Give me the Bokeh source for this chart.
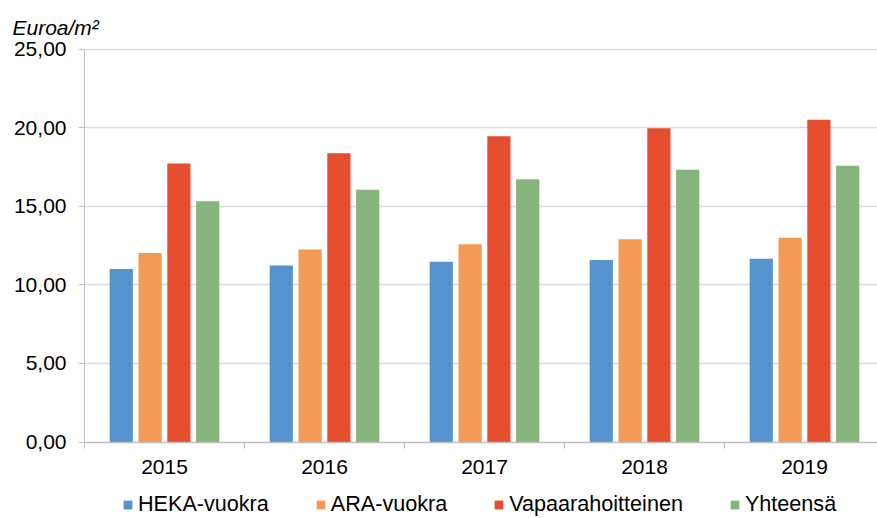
import numpy as np
from bokeh.plotting import figure
from bokeh.models import Range1d, FixedTicker, Legend, LegendItem, ColumnDataSource, Label
from bokeh.embed import file_html
from bokeh.resources import INLINE

# ---- data ----
years = ["2015", "2016", "2017", "2018", "2019"]
series_names = ["HEKA-vuokra", "ARA-vuokra", "Vapaarahoitteinen", "Yhteensä"]
heka = [11.00, 11.23, 11.46, 11.57, 11.65]
ara = [12.03, 12.25, 12.58, 12.90, 13.00]
vapaa = [17.72, 18.37, 19.45, 19.96, 20.50]
yhteensa = [15.32, 16.04, 16.72, 17.32, 17.57]
y_ticks = [0, 5, 10, 15, 20, 25]
y_title = "Euroa/m²"

series_values = [heka, ara, vapaa, yhteensa]
colors = ["#5592CE", "#F49A57", "#E44E2F", "#86B47D"]
offsets = [-0.27, -0.09, 0.09, 0.27]
bar_w = 0.145

FONT = "Liberation Sans"
FS = "21px"
GRAY = "#BFBFBF"

# ---- layout (pixels) ----
W, H = 877, 518
AXIS_X_PX = 84          # y axis position
ZERO_Y_PX = 441.5       # value 0 position
PX_PER_CAT = 160
PX_PER_UNIT = 15.72

n = len(years)
centers = [i + 0.5 for i in range(n)]
bounds = list(range(n + 1))

x0 = -AXIS_X_PX / PX_PER_CAT
x1 = (W - AXIS_X_PX) / PX_PER_CAT
y0 = -(H - ZERO_Y_PX) / PX_PER_UNIT
y1 = ZERO_Y_PX / PX_PER_UNIT

p = figure(width=W, height=H, output_backend="svg", toolbar_location=None,
           title_location=None,
           x_range=Range1d(x0, x1), y_range=Range1d(y0, y1),
           min_border_left=0, min_border_right=0, min_border_top=0, min_border_bottom=0)
p.outline_line_color = None
p.background_fill_color = "white"
p.border_fill_color = "white"

renderers = []
for vals, col, off in zip(series_values, colors, offsets):
    src = ColumnDataSource(dict(x=[c + off for c in centers], top=vals))
    r = p.vbar(x="x", top="top", bottom=0, width=bar_w, source=src, fill_color=col, line_color=None)
    renderers.append(r)

# grid
p.xgrid.visible = False
p.ygrid.ticker = FixedTicker(ticks=y_ticks[1:])
p.ygrid.cross_bounds = (0, n)
p.ygrid.grid_line_color = "#D9D9D9"
p.ygrid.grid_line_width = 1.3

# y axis, placed at x = 0 inside the frame
ya = p.yaxis[0]
ya.fixed_location = 0
ya.ticker = FixedTicker(ticks=y_ticks)
ya.bounds = (0, 25)
ya.major_label_overrides = {t: f"{t:.2f}".replace(".", ",") for t in y_ticks}
ya.axis_line_color = GRAY
ya.major_tick_line_color = GRAY
ya.major_tick_out = 6
ya.major_tick_in = 0
ya.minor_tick_line_color = None
ya.major_label_standoff = 12
ya.major_label_text_font = FONT
ya.major_label_text_font_size = FS
ya.major_label_text_color = "black"

# x axis, placed at value 0 inside the frame
xa = p.xaxis[0]
xa.fixed_location = 0
xa.bounds = (0, n)
xa.ticker = FixedTicker(ticks=centers, minor_ticks=bounds)
xa.major_label_overrides = {c: y for c, y in zip(centers, years)}
xa.axis_line_color = GRAY
xa.axis_line_width = 1.3
xa.major_tick_line_color = None
xa.major_tick_out = 0
xa.major_tick_in = 0
xa.minor_tick_line_color = GRAY
xa.minor_tick_out = 6
xa.minor_tick_in = 0
xa.major_label_standoff = 12
xa.major_label_text_font = FONT
xa.major_label_text_font_size = FS
xa.major_label_text_color = "black"

# axis title at top-left
title = Label(x=(12 - AXIS_X_PX) / PX_PER_CAT, y=(ZERO_Y_PX - 27) / PX_PER_UNIT,
              text=y_title, text_font=FONT, text_font_size=FS, text_font_style="italic",
              text_color="black", text_baseline="alphabetic", text_align="left")
p.add_layout(title)

# legend
items = [LegendItem(label=name, renderers=[r]) for name, r in zip(series_names, renderers)]
legend = Legend(items=items, orientation="horizontal", location=(122, 1),
                glyph_width=11, glyph_height=11, label_standoff=5, spacing=46,
                label_height=24, padding=0, margin=0, border_line_color=None,
                background_fill_alpha=0,
                label_text_font=FONT, label_text_font_size="21.6px", label_text_color="black")
p.add_layout(legend, "center")

open("out.html", "w").write(file_html(p, INLINE))
